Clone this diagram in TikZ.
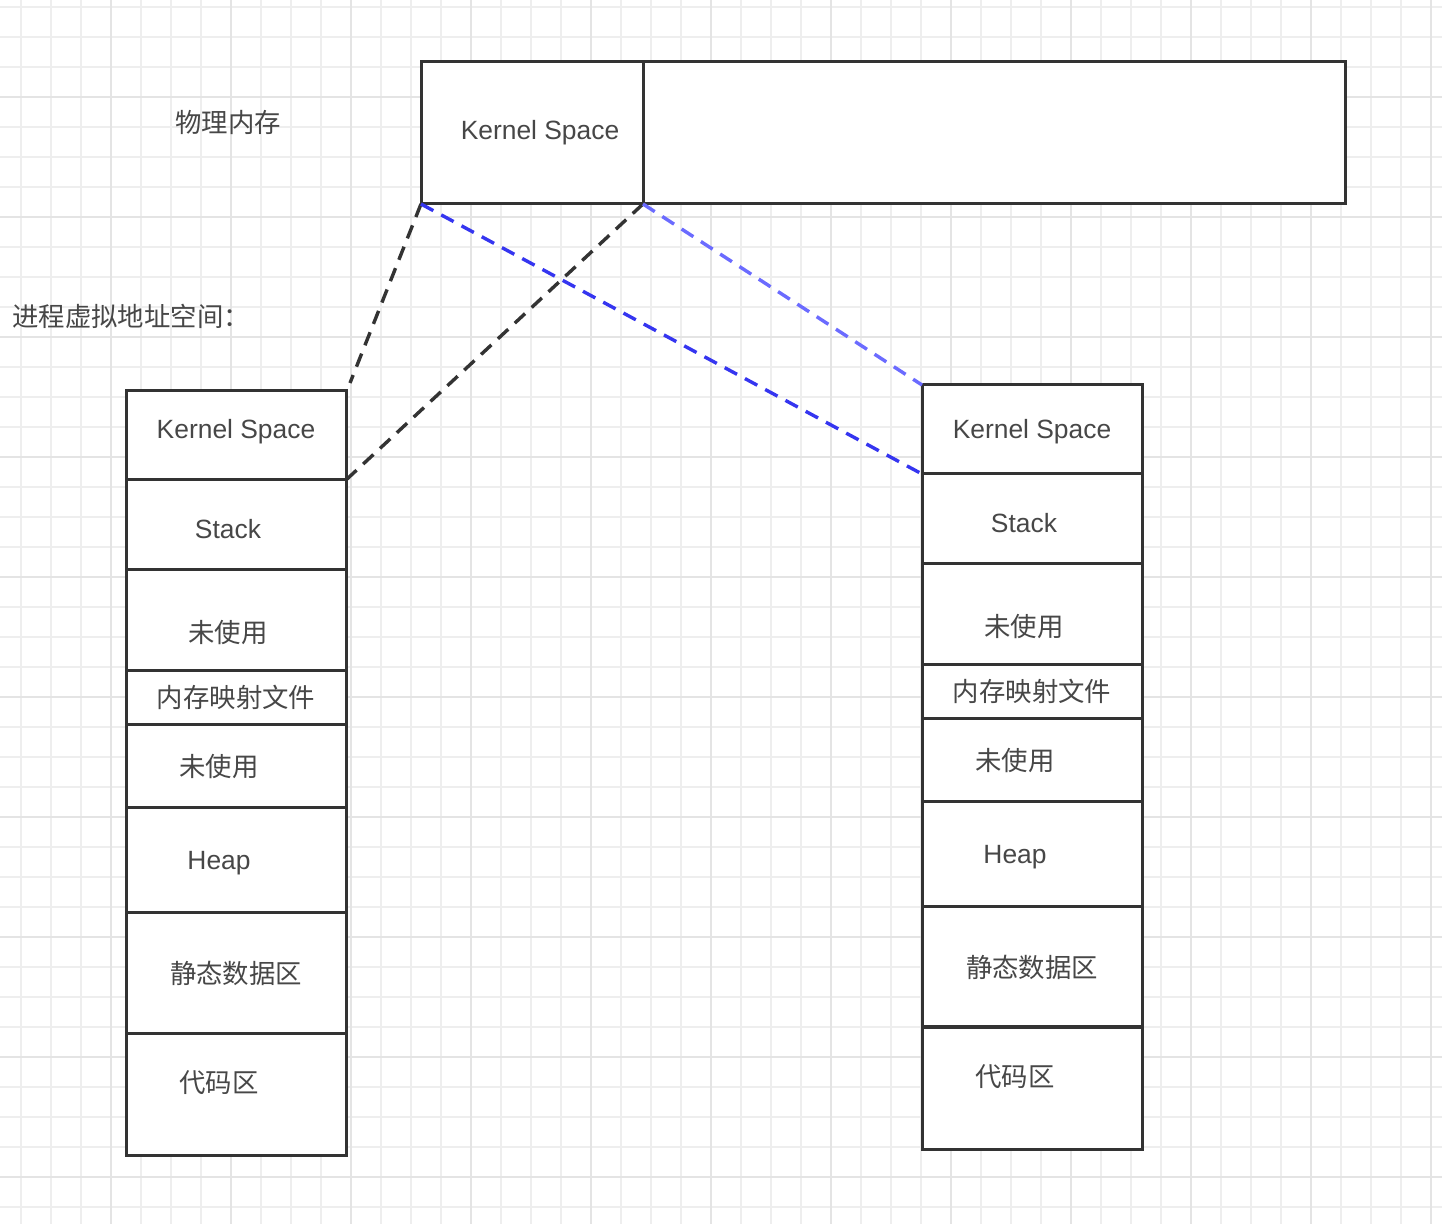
\documentclass[tikz,border=0pt]{standalone}
\usepackage{fontspec}
\setmainfont{Liberation Sans}
\newfontfamily\cjk{Noto Sans CJK SC}
\definecolor{ink}{HTML}{333333}
\definecolor{kblue}{HTML}{3535F0}
\definecolor{lblue}{HTML}{6B6BFF}
\definecolor{gridminor}{HTML}{EEEEEE}
\definecolor{gridmajor}{HTML}{E4E4E4}
\begin{document}
\begin{tikzpicture}[x=0.5pt, y=-0.5pt,
  seg/.style={draw=ink, fill=white, line width=1.5pt, inner sep=0pt, outer sep=0pt, minimum width=110pt},
  lbl/.style={inner sep=0pt, text=ink!90, font=\fontsize{13.2}{15}\selectfont},
  map/.style={line width=1.7pt, dash pattern=on 7pt off 4.5pt}]
\def\dx{796}
\def\dy{-6}

\useasboundingbox (0,0) rectangle (1442,1224);
\fill[white] (0,0) rectangle (1442,1224);

%%%%%%%%%%%%%-------------grid
\foreach \k in {0,...,47}{
\draw[gridminor, line width=0.75pt] (21+30*\k,0) -- (21+30*\k,1224);}
\foreach \k in {0,...,40}{
\draw[gridminor, line width=0.75pt] (0,7+30*\k) -- (1442,7+30*\k);}
\foreach \k in {0,...,11}{
\draw[gridmajor, line width=1pt] (111+120*\k,0) -- (111+120*\k,1224);}
\foreach \k in {0,...,9}{
\draw[gridmajor, line width=1pt] (0,97+120*\k) -- (1442,97+120*\k);}

%%%%%%%%%%%%%-------------memoria fisica
\node[seg, minimum width=462pt, minimum height=71pt] (pm) at (883,133) {};
\node[seg, minimum width=111pt, minimum height=71pt] (pk) at (532,133) {};
\node[lbl] (pkt) at (540,133) {Kernel Space};
\node[lbl] (pmt) at (228,123) {\cjk 物理内存};
\node[lbl, anchor=west] (vat) at (12,316) {\cjk 进程虚拟地址空间：};

%%%%%%%%%%%%%-------------espacios virtuales
\foreach \n/\t/\b in {1/391/480, 2/480/570, 3/570/671, 4/671/725, 5/725/808, 6/808/913, 7/913/1033, 8/1033/1155}{
\pgfmathsetmacro\h{(\b-\t)/2}
\pgfmathsetmacro\c{(\t+\b)/2}
\node[seg, minimum height=\h pt] (l\n) at (236,\c) {};
\node[seg, minimum height=\h pt] (r\n) at (236+\dx,\c+\dy) {};}

\foreach \n/\x/\y/\s/\txt in {1/236/432/0/{Kernel Space}, 2/228/529/\dy/{Stack}, 3/228/633/\dy/{\cjk 未使用},
  4/236/697/\dy/{\cjk 内存映射文件}, 5/219/767/\dy/{\cjk 未使用}, 6/219/863/\dy/{Heap},
  7/236/973/\dy/{\cjk 静态数据区}, 8/219/1083/\dy/{\cjk 代码区}}{
\node[lbl] (l\n t) at (\x,\y) {\txt};
\node[lbl] (r\n t) at (\x+\dx,\y+\s) {\txt};}

%%%%%%%%%%%%%-------------mapeo
\coordinate (lup) at (350,383);
\draw[map, ink] (pk.south west) -- (lup);
\draw[map, ink] (pk.south east) -- (l1.south east);
\draw[map, kblue] (pk.south west) -- (r1.south west);
\draw[map, lblue] (pk.south east) -- (r1.north west);

\end{tikzpicture}
\end{document}
